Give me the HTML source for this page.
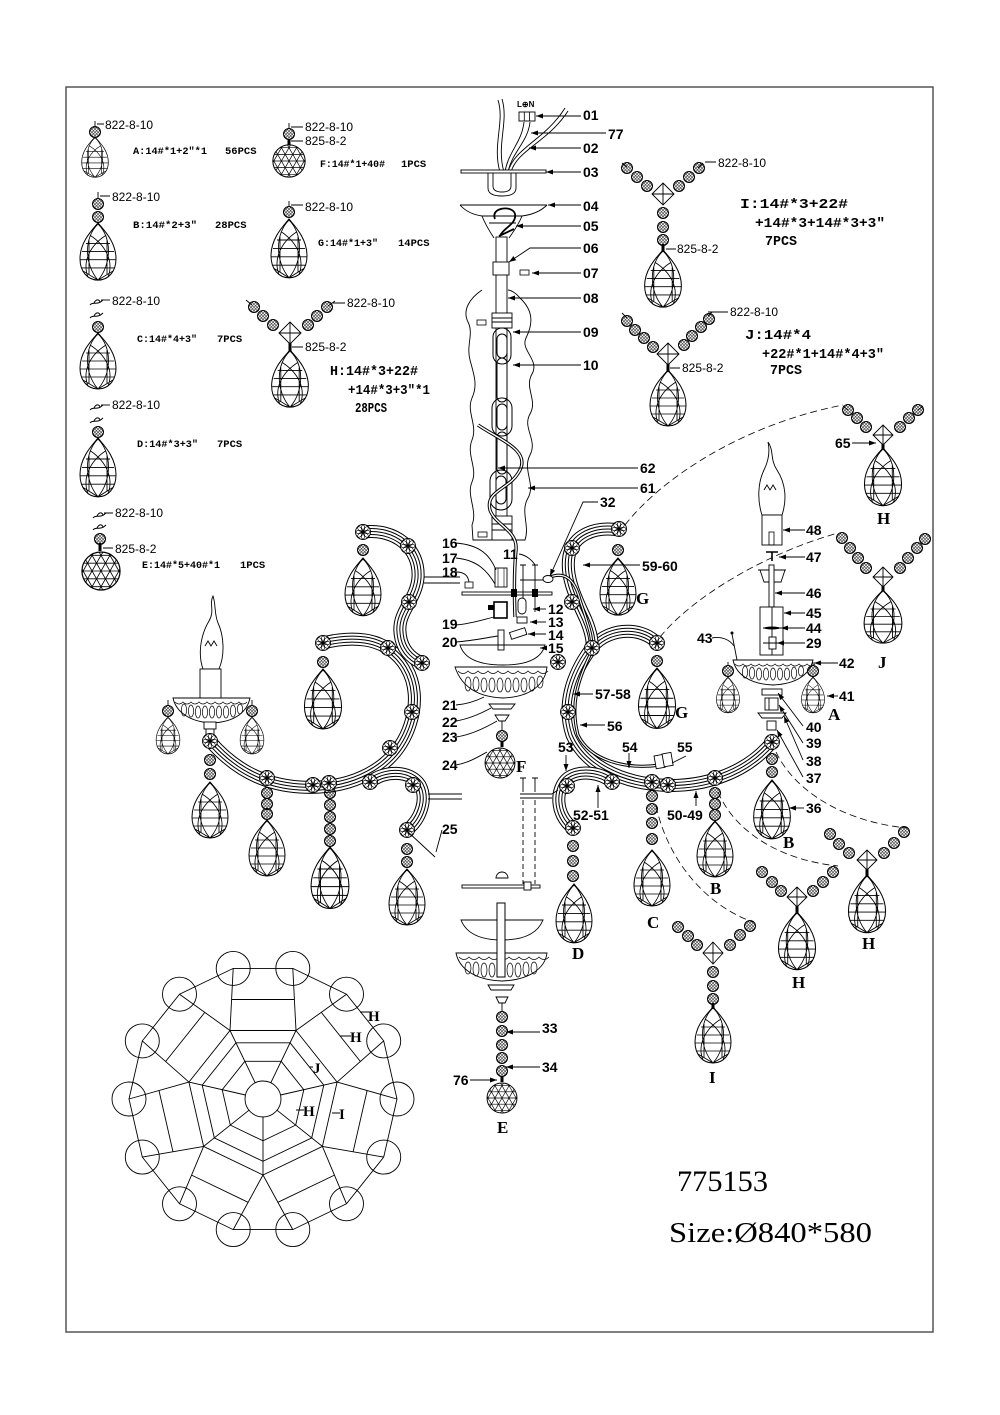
<!DOCTYPE html>
<html><head><meta charset="utf-8"><style>
html,body{margin:0;padding:0;background:#fff}
svg{display:block}
.t{font-family:"Liberation Sans",sans-serif;font-size:14px;font-weight:bold;fill:#000}
.p{font-family:"Liberation Sans",sans-serif;font-size:12px;fill:#000}
.m{font-family:"Liberation Mono",monospace;font-size:10.5px;font-weight:bold;fill:#000}
.m2{font-family:"Liberation Mono",monospace;font-size:14px;font-weight:bold;fill:#000}
.L{font-family:"Liberation Serif",serif;font-size:17px;font-weight:bold;fill:#000}
.big{font-family:"Liberation Serif",serif;font-size:30px;fill:#000}
.ln{fill:none;stroke:#000;stroke-width:0.9}
.ds{fill:none;stroke:#000;stroke-width:0.8;stroke-dasharray:7,4}
</style></head><body>
<svg width="1000" height="1415" viewBox="0 0 1000 1415" xmlns="http://www.w3.org/2000/svg">
<defs>
<pattern id="hat" width="2.2" height="2.2" patternUnits="userSpaceOnUse" patternTransform="rotate(45)"><path d="M0,0H2.2M0,0V2.2" stroke="#000" stroke-width="0.95"/></pattern>
<marker id="ar" markerUnits="userSpaceOnUse" markerWidth="8" markerHeight="6" refX="7" refY="2.5" orient="auto-start-reverse"><path d="M0,0L7,2.5L0,5Z" fill="#000"/></marker>
<g id="bd"><circle r="5.5" fill="url(#hat)" stroke="#000" stroke-width="1"/></g>
<g id="ro"><circle r="7.5" fill="#fff" stroke="#000" stroke-width="0.9"/>
<g fill="none" stroke="#000" stroke-width="0.7">
<ellipse cx="4" cy="0" rx="3" ry="1.7"/><ellipse cx="4" cy="0" rx="3" ry="1.7" transform="rotate(45)"/><ellipse cx="4" cy="0" rx="3" ry="1.7" transform="rotate(90)"/><ellipse cx="4" cy="0" rx="3" ry="1.7" transform="rotate(135)"/><ellipse cx="4" cy="0" rx="3" ry="1.7" transform="rotate(180)"/><ellipse cx="4" cy="0" rx="3" ry="1.7" transform="rotate(225)"/><ellipse cx="4" cy="0" rx="3" ry="1.7" transform="rotate(270)"/><ellipse cx="4" cy="0" rx="3" ry="1.7" transform="rotate(315)"/></g>
<circle r="1.7" fill="#000"/></g>
<clipPath id="bc"><circle r="17"/></clipPath>
<g id="ball"><circle r="17" fill="#fff" stroke="#000" stroke-width="1.1"/>
<g clip-path="url(#bc)" stroke="#000" stroke-width="0.75" fill="none">
<path d="M-20,-14H20M-20,-7H20M-20,0H20M-20,7H20M-20,14H20"/>
<path d="M-36,-21L-12,21M-28,-21L-4,21M-20,-21L4,21M-12,-21L12,21M-4,-21L20,21M4,-21L28,21M12,-21L36,21"/>
<path d="M36,-21L12,21M28,-21L4,21M20,-21L-4,21M12,-21L-12,21M4,-21L-20,21M-4,-21L-28,21M-12,-21L-36,21"/>
</g></g>
<g id="dr" fill="none" stroke="#000" stroke-width="0.85">
<path d="M0,0 C5,6 18,18 18,35 C18,48 10,56 0,56 C-10,56 -18,48 -18,35 C-18,18 -5,6 0,0Z" fill="#fff" stroke-width="1"/>
<path d="M0,1 C-14,14 -14,40 0,56 M0,1 C14,14 14,40 0,56 M-8,12 C8,22 16,38 10,53 M8,12 C-8,22 -16,38 -10,53 M-12,20H12 M-16,28H16 M-18,36H18 M-17,44H17 M-9,17V51 M9,17V51 M-15,47L0,56L15,47"/>
</g>
<g id="bird" fill="none" stroke="#000" stroke-width="1"><path d="M-7,3 C-4,-1 0,4 6,-2 M-3,1 C-1,-3 2,-3 3,0"/></g>
<path id="aL1" d="M210,741 C235,770 265,785 300,787 C350,790 395,770 410,725 C425,680 400,645 365,640 C350,638 335,640 323,643"/>
<path id="aL2" d="M363,532 C395,528 420,548 418,578 C416,600 398,612 400,632 C401,648 410,658 422,663"/>
<path id="aL3" d="M370,782 C385,770 410,770 420,785 C428,800 420,820 407,830"/>
<path id="aR1" d="M619,530 C595,526 573,535 569,556 C565,578 578,602 586,620 C591,632 593,642 592,650"/>
<path id="aR2" d="M657,643 C640,625 605,628 590,650 C572,675 562,705 572,735 C585,765 620,782 660,785 C700,788 745,775 772,742"/>
<path id="aR3" d="M612,782 C600,772 580,770 568,778 C555,788 555,815 573,828"/>
</defs>

<!-- border -->
<rect x="66" y="87" width="867" height="1245" fill="none" stroke="#555" stroke-width="1.5"/>

<!-- ===== ARMS ===== -->
<g fill="none" stroke-linecap="butt">
<use href="#aL1" stroke="#000" stroke-width="13"/><use href="#aL1" stroke="#fff" stroke-width="11"/><use href="#aL1" stroke="#000" stroke-width="7"/><use href="#aL1" stroke="#fff" stroke-width="5"/><use href="#aL1" stroke="#000" stroke-width="1"/>
<use href="#aL2" stroke="#000" stroke-width="13"/><use href="#aL2" stroke="#fff" stroke-width="11"/><use href="#aL2" stroke="#000" stroke-width="7"/><use href="#aL2" stroke="#fff" stroke-width="5"/><use href="#aL2" stroke="#000" stroke-width="1"/>
<use href="#aL3" stroke="#000" stroke-width="13"/><use href="#aL3" stroke="#fff" stroke-width="11"/><use href="#aL3" stroke="#000" stroke-width="7"/><use href="#aL3" stroke="#fff" stroke-width="5"/><use href="#aL3" stroke="#000" stroke-width="1"/>
<use href="#aR2" stroke="#000" stroke-width="13"/><use href="#aR2" stroke="#fff" stroke-width="11"/><use href="#aR2" stroke="#000" stroke-width="7"/><use href="#aR2" stroke="#fff" stroke-width="5"/><use href="#aR2" stroke="#000" stroke-width="1"/>
<use href="#aR1" stroke="#000" stroke-width="13"/><use href="#aR1" stroke="#fff" stroke-width="11"/><use href="#aR1" stroke="#000" stroke-width="7"/><use href="#aR1" stroke="#fff" stroke-width="5"/><use href="#aR1" stroke="#000" stroke-width="1"/>
<use href="#aR3" stroke="#000" stroke-width="13"/><use href="#aR3" stroke="#fff" stroke-width="11"/><use href="#aR3" stroke="#000" stroke-width="7"/><use href="#aR3" stroke="#fff" stroke-width="5"/><use href="#aR3" stroke="#000" stroke-width="1"/>
</g>
<!-- arm wire on right -->
<path d="M548,578 C565,570 575,580 580,600 C588,625 595,640 590,655 C578,680 570,705 578,735 C590,760 625,770 660,765" fill="none" stroke="#000" stroke-width="3.2"/>
<path d="M548,578 C565,570 575,580 580,600 C588,625 595,640 590,655 C578,680 570,705 578,735 C590,760 625,770 660,765" fill="none" stroke="#fff" stroke-width="1.2"/>

<!-- arm tabs -->
<g class="ln">
<path d="M424,577 L460,577 M424,583 L460,583"/><path d="M428,794 L462,794 M428,799 L462,799" />
<path d="M520,794 L552,794 M520,798 L552,798 M552,794 L558,790"/>
</g>

<!-- ===== CENTER COLUMN ===== -->
<g class="ln">
<path d="M498,100 C505,122 492,145 500,172 M502,99 C509,122 496,145 504,172"/>
<path d="M565,108 C545,140 514,148 508,172 M568,111 C548,142 517,150 511,172"/>
<path d="M524,122 C522,142 508,152 505,172 M530,122 C528,142 512,152 508,172"/>
</g>
<text x="517" y="107" style="font-family:'Liberation Sans',sans-serif;font-size:8px;font-weight:bold">L⊕N</text>
<rect x="519" y="112" width="16" height="9" fill="#fff" stroke="#000" stroke-width="0.9"/>
<path d="M524.3,112V121M529.6,112V121" stroke="#000" stroke-width="0.8"/>
<rect x="461" y="170" width="85" height="3" fill="#fff" stroke="#000" stroke-width="0.9"/>
<path d="M488,173 V188 Q488,196 502,196 Q516,196 516,188 V173 M493,173 V186 Q493,192 502,192 Q511,192 511,186 V173" class="ln"/>
<!-- canopy -->
<path d="M460,205 L547,205 M460,205 Q468,214 482,216 C486,226 490,232 494,238 M547,205 Q538,214 522,216 C518,226 513,232 509,238 M482,216 L522,216 M489,223 L516,223" class="ln"/>
<path d="M495,219 C490,207 513,205 515,214 C517,224 503,228 500,236 M499,236 L514,229" fill="none" stroke="#000" stroke-width="1.8"/>
<!-- pipe -->
<rect x="496" y="237" width="11" height="292" fill="#fff" stroke="#000" stroke-width="0.9"/>
<rect x="493" y="262" width="16" height="13" fill="#fff" stroke="#000" stroke-width="0.9"/>
<path d="M509,262 L530,248 L581,248" class="ln" marker-start="url(#ar)"/>
<rect x="520" y="270" width="9" height="5" fill="#fff" stroke="#000" stroke-width="0.8"/>
<!-- wavy cover -->
<path d="M482,290 C470,298 462,310 468,322 C474,334 466,345 470,360 C474,375 478,385 472,398 C466,412 478,425 472,440 C466,455 478,468 472,482 C466,496 478,510 472,525 L473,540 L525,540 C530,525 520,512 528,498 C536,484 522,470 530,455 C538,440 522,428 530,414 C538,400 524,388 532,374 C540,360 520,350 526,338 C532,326 535,312 520,298 C515,292 510,290 508,290" class="ln"/>
<rect x="477" y="320" width="9" height="5" fill="#fff" stroke="#000" stroke-width="0.8"/>
<rect x="478" y="532" width="9" height="5" fill="#fff" stroke="#000" stroke-width="0.8"/>
<!-- coupling & chain -->
<rect x="492" y="313" width="20" height="15" fill="#fff" stroke="#000" stroke-width="0.9"/>
<path d="M492,318H512M492,322H512" class="ln"/>
<g fill="none" stroke="#000" stroke-width="1">
<rect x="493" y="328" width="18" height="36" rx="9"/><rect x="497" y="334" width="10" height="24" rx="5"/>
<rect x="497" y="358" width="10" height="44" rx="5"/>
<rect x="492" y="398" width="20" height="38" rx="10"/><rect x="497" y="404" width="10" height="26" rx="5"/>
<rect x="497" y="432" width="10" height="42" rx="5"/>
<rect x="490" y="470" width="22" height="40" rx="11"/><rect x="496" y="476" width="10" height="28" rx="5"/>
</g>
<rect x="492" y="516" width="20" height="24" fill="#fff" stroke="#000" stroke-width="0.9"/>
<path d="M492,524H512M492,530H512" class="ln"/>
<!-- wire along chain -->
<path d="M478,425 C500,440 530,450 520,470 C510,490 485,490 490,510 C495,525 518,530 516,550 C514,570 514,590 515,617" fill="none" stroke="#000" stroke-width="3.4"/>
<path d="M478,425 C500,440 530,450 520,470 C510,490 485,490 490,510 C495,525 518,530 516,550 C514,570 514,590 515,617" fill="none" stroke="#fff" stroke-width="1.4"/>
<!-- body parts 16-20 -->
<rect x="495" y="568" width="12" height="19" fill="#fff" stroke="#000" stroke-width="0.9"/>
<path d="M498,568V587M504,568V587" stroke="#000" stroke-width="0.6"/>
<rect x="465" y="582" width="8" height="6" fill="#fff" stroke="#000" stroke-width="0.8"/>
<rect x="462" y="592" width="90" height="3" fill="#fff" stroke="#000" stroke-width="0.9"/>
<g class="ln"><path d="M520,565h6M523,565V612M532,565h6M535,565V612M520,580H548"/></g>
<rect x="511" y="589" width="6" height="8" fill="#000"/><rect x="532" y="589" width="6" height="8" fill="#000"/>
<ellipse cx="548" cy="579" rx="5" ry="3.5" fill="#fff" stroke="#000" stroke-width="0.9"/>
<rect x="518" y="598" width="8" height="16" rx="4" fill="#fff" stroke="#000" stroke-width="0.9"/>
<rect x="494" y="602" width="13" height="16" fill="#fff" stroke="#000" stroke-width="1.6"/>
<rect x="488" y="605" width="6" height="5" fill="#000"/>
<rect x="517" y="617" width="10" height="6" fill="#fff" stroke="#000" stroke-width="0.9"/>
<rect x="510" y="630" width="16" height="7" fill="#fff" stroke="#000" stroke-width="0.9" transform="rotate(-18 518 633)"/>
<rect x="498" y="630" width="6" height="20" fill="#fff" stroke="#000" stroke-width="0.9"/>
<path d="M460,645 L545,645 Q540,665 503,665 Q466,665 460,645Z" fill="none" stroke="#000" stroke-width="0.9"/>
<!-- bowl 21 -->
<path d="M455,667 L547,667 C545,685 530,697 503,698 C476,697 461,685 455,667Z" fill="#fff" stroke="#000" stroke-width="0.9"/>
<g fill="none" stroke="#000" stroke-width="0.7">
<path d="M458,671 q5,5 10,0 q5,5 10,0 q5,5 10,0 q5,5 10,0 q5,5 10,0 q5,5 10,0 q5,5 10,0 q5,5 10,0 q5,5 10,0"/>
<ellipse cx="468" cy="684" rx="3" ry="7"/><ellipse cx="476" cy="684" rx="3" ry="7"/><ellipse cx="484" cy="685" rx="3" ry="7"/><ellipse cx="492" cy="685" rx="3" ry="7"/><ellipse cx="500" cy="685" rx="3" ry="7"/><ellipse cx="508" cy="685" rx="3" ry="7"/><ellipse cx="516" cy="685" rx="3" ry="7"/><ellipse cx="524" cy="685" rx="3" ry="7"/><ellipse cx="532" cy="684" rx="3" ry="7"/><ellipse cx="540" cy="682" rx="3" ry="6"/>
</g>
<path d="M489,704 L515,704 L511,709 L493,709Z" fill="#fff" stroke="#000" stroke-width="0.9"/>
<path d="M495,715 L509,715 L505,721 L499,721Z" fill="#fff" stroke="#000" stroke-width="0.9"/>
<path d="M502,721V730" class="ln"/>
<use href="#bd" x="502" y="736"/>
<rect x="500.5" y="741" width="3" height="6" fill="#000"/>
<use href="#ball" transform="translate(500,763) scale(0.88)"/>

<!-- bottom center assembly -->
<g class="ln">
<path d="M520,778h6M523,778V792M532,778h6M535,778V792"/>
<path d="M523,800V884M535,800V884" stroke-dasharray="5,3"/>
</g>
<rect x="462" y="885" width="78" height="3" fill="#fff" stroke="#000" stroke-width="0.9"/>
<rect x="524" y="882" width="7" height="8" fill="#fff" stroke="#000" stroke-width="0.9"/>
<path d="M496,878 A6,6 0 0 1 508,878 Z" fill="#fff" stroke="#000" stroke-width="0.9"/>
<path d="M461,920 L543,920 Q535,940 502,940 Q469,940 461,920Z" fill="#fff" stroke="#000" stroke-width="0.9"/>
<path d="M456,953 L547,953 C545,968 530,980 502,981 C474,980 459,968 456,953Z" fill="#fff" stroke="#000" stroke-width="0.9"/>
<g fill="none" stroke="#000" stroke-width="0.7">
<path d="M459,957 q5,5 10,0 q5,5 10,0 q5,5 10,0 q5,5 10,0 q5,5 10,0 q5,5 10,0 q5,5 10,0 q5,5 10,0 q5,5 10,0"/>
<ellipse cx="468" cy="968" rx="3" ry="6"/><ellipse cx="476" cy="969" rx="3" ry="7"/><ellipse cx="484" cy="970" rx="3" ry="7"/><ellipse cx="492" cy="970" rx="3" ry="7"/><ellipse cx="510" cy="970" rx="3" ry="7"/><ellipse cx="518" cy="970" rx="3" ry="7"/><ellipse cx="526" cy="969" rx="3" ry="7"/><ellipse cx="534" cy="968" rx="3" ry="6"/>
</g>
<rect x="497" y="903" width="8" height="74" fill="#fff" stroke="#000" stroke-width="1"/>
<path d="M488,985 L514,985 L511,990 L491,990Z" fill="#fff" stroke="#000" stroke-width="0.9"/>
<path d="M496,997 L508,997 L505,1003 L499,1003Z" fill="#fff" stroke="#000" stroke-width="0.9"/>
<path d="M502,1003V1012" class="ln"/>
<use href="#bd" x="502" y="1017"/><use href="#bd" x="502" y="1031"/><use href="#bd" x="502" y="1045"/><use href="#bd" x="502" y="1058"/><use href="#bd" x="502" y="1071"/>
<rect x="500.5" y="1076" width="3" height="6" fill="#000"/>
<use href="#ball" transform="translate(502,1098) scale(0.88)"/>

<!-- ===== LEFT CANDLE ===== -->
<path d="M213,596 C209,604 215,611 209,621 C200,636 198,655 203,669 L219,669 C225,655 224,636 218,623 C214,613 216,604 213,596Z" fill="#fff" stroke="#000" stroke-width="0.9"/>
<path d="M205,646 L208,641 L211,646 L214,641 L217,646" class="ln"/>
<rect x="200" y="669" width="21" height="30" fill="#fff" stroke="#000" stroke-width="0.9"/>
<path d="M173,698 L250,698 C247,712 235,722 212,723 C190,722 176,712 173,698Z" fill="#fff" stroke="#000" stroke-width="0.9"/>
<g fill="none" stroke="#000" stroke-width="0.7">
<path d="M175,702 q4,4 8,0 q4,4 8,0 q4,4 8,0 q4,4 8,0 q4,4 8,0 q4,4 8,0 q4,4 8,0 q4,4 8,0 q4,4 8,0"/>
<ellipse cx="184" cy="710" rx="2.6" ry="6"/><ellipse cx="191" cy="711" rx="2.6" ry="6"/><ellipse cx="198" cy="712" rx="2.6" ry="6"/><ellipse cx="205" cy="712" rx="2.6" ry="6"/><ellipse cx="212" cy="712" rx="2.6" ry="6"/><ellipse cx="219" cy="712" rx="2.6" ry="6"/><ellipse cx="226" cy="712" rx="2.6" ry="6"/><ellipse cx="233" cy="711" rx="2.6" ry="6"/><ellipse cx="240" cy="709" rx="2.6" ry="5"/>
</g>
<rect x="204" y="722" width="12" height="7" fill="#fff" stroke="#000" stroke-width="0.9"/>
<rect x="206" y="729" width="8" height="6" fill="#fff" stroke="#000" stroke-width="0.9"/>
<path d="M168,700V706M252,700V706" class="ln"/>
<use href="#bd" x="168" y="711"/><use href="#bd" x="252" y="711"/>
<use href="#dr" transform="translate(168,717) scale(0.66)"/><use href="#dr" transform="translate(252,717) scale(0.66)"/>

<!-- ===== RIGHT CANDLE ===== -->
<path d="M768,442 C774,450 770,460 777,470 C786,484 787,500 782,515 L762,515 C757,500 758,482 764,470 C769,460 770,451 768,442Z" fill="#fff" stroke="#000" stroke-width="0.9"/>
<path d="M764,490 L767,485 L770,490 L773,485 L776,490" class="ln"/>
<rect x="762" y="515" width="20" height="30" fill="#fff" stroke="#000" stroke-width="0.9"/>
<rect x="769" y="532" width="5" height="13" fill="none" stroke="#000" stroke-width="0.8"/>
<path d="M766,552 H778 M772,552 V561" stroke="#000" stroke-width="1.6"/>
<path d="M758,570 H786 M760,570 L764,582 H781 L785,570" class="ln"/>
<rect x="769" y="565" width="5" height="42" fill="#fff" stroke="#000" stroke-width="0.9"/>
<rect x="760" y="607" width="23" height="48" fill="#fff" stroke="#000" stroke-width="0.9"/>
<path d="M772,607V655 M763,628H781" class="ln"/>
<ellipse cx="772" cy="628" rx="8" ry="1.5" fill="#000"/>
<rect x="769" y="637" width="7" height="12" fill="#fff" stroke="#000" stroke-width="0.9"/>
<path d="M763,643H781" class="ln"/>
<path d="M733,660 L813,660 C810,674 797,684 773,685 C749,684 736,674 733,660Z" fill="#fff" stroke="#000" stroke-width="0.9"/>
<g fill="none" stroke="#000" stroke-width="0.7">
<path d="M735,664 q4,4 8,0 q4,4 8,0 q4,4 8,0 q4,4 8,0 q4,4 8,0 q4,4 8,0 q4,4 8,0 q4,4 8,0 q4,4 8,0 q4,4 8,0"/>
<ellipse cx="745" cy="672" rx="2.6" ry="6"/><ellipse cx="752" cy="673" rx="2.6" ry="6"/><ellipse cx="759" cy="674" rx="2.6" ry="6"/><ellipse cx="766" cy="674" rx="2.6" ry="6"/><ellipse cx="773" cy="674" rx="2.6" ry="6"/><ellipse cx="780" cy="674" rx="2.6" ry="6"/><ellipse cx="787" cy="674" rx="2.6" ry="6"/><ellipse cx="794" cy="673" rx="2.6" ry="6"/><ellipse cx="801" cy="671" rx="2.6" ry="5"/>
</g>
<rect x="762" y="689" width="20" height="6" fill="#fff" stroke="#000" stroke-width="0.9"/>
<rect x="765" y="698" width="13" height="12" fill="#fff" stroke="#000" stroke-width="0.9"/>
<path d="M769,698V710" class="ln"/>
<path d="M758,713 H786 L782,718 H762Z" fill="#fff" stroke="#000" stroke-width="0.9"/>
<rect x="767" y="721" width="9" height="9" fill="#fff" stroke="#000" stroke-width="0.9"/>
<path d="M732,634 L737,660" class="ln"/><circle cx="732" cy="633" r="1.5" fill="#000"/>
<path d="M728,662V666M813,662V666" class="ln"/>
<use href="#bd" x="728" y="671"/><use href="#bd" x="813" y="671"/>
<use href="#dr" transform="translate(728,677) scale(0.64)"/><use href="#dr" transform="translate(813,677) scale(0.64)"/>
<!-- 55 bracket -->
<rect x="655" y="755" width="9" height="13" fill="#fff" stroke="#000" stroke-width="0.9" transform="rotate(-10 660 761)"/>
<rect x="663" y="753" width="9" height="13" fill="#fff" stroke="#000" stroke-width="0.9" transform="rotate(-10 668 759)"/>

<!-- ===== DASHED CONNECTORS ===== -->
<path class="ds" d="M625,525 C660,480 740,425 843,405"/>
<path class="ds" d="M660,637 C690,600 760,555 838,533"/>
<path class="ds" d="M776,752 C795,792 845,822 907,828"/>
<path class="ds" d="M718,792 C735,832 780,860 838,866"/>
<path class="ds" d="M656,806 C668,860 705,905 753,922"/>

<!-- ===== HANGING BEADS + DROPS (arms) ===== -->
<use href="#bd" x="210" y="760"/><use href="#bd" x="210" y="774"/><use href="#dr" transform="translate(210,782)"/>
<use href="#bd" x="267" y="793"/><use href="#bd" x="267" y="804"/><use href="#bd" x="267" y="814"/><use href="#dr" transform="translate(267,820)"/>
<use href="#bd" x="330" y="793"/><use href="#bd" x="330" y="805"/><use href="#bd" x="330" y="817"/><use href="#bd" x="330" y="829"/><use href="#bd" x="330" y="841"/><use href="#dr" transform="translate(330,847) scale(1.05,1.1)"/>
<use href="#bd" x="407" y="849"/><use href="#bd" x="407" y="862"/><use href="#dr" transform="translate(407,869)"/>
<use href="#bd" x="323" y="662"/><use href="#dr" transform="translate(323,669) scale(1.03,1.07)"/>
<use href="#bd" x="363" y="550"/><use href="#dr" transform="translate(363,558) scale(1,1.03)"/>
<use href="#bd" x="618" y="550"/><use href="#dr" transform="translate(618,558) scale(1,1.02)"/>
<use href="#bd" x="657" y="661"/><use href="#dr" transform="translate(657,668) scale(1.03,1.08)"/>
<use href="#bd" x="573" y="846"/><use href="#bd" x="573" y="861"/><use href="#bd" x="573" y="876"/><use href="#dr" transform="translate(574,884) scale(1,1.05)"/>
<use href="#bd" x="652" y="796"/><use href="#bd" x="652" y="809"/><use href="#bd" x="652" y="823"/><use href="#bd" x="652" y="839"/><use href="#dr" transform="translate(652,850)"/>
<use href="#bd" x="715" y="793"/><use href="#bd" x="715" y="804"/><use href="#bd" x="715" y="815"/><use href="#dr" transform="translate(715,821)"/>
<use href="#bd" x="772" y="759"/><use href="#bd" x="772" y="772"/><use href="#dr" transform="translate(772,780) scale(1.02,1.05)"/>

<!-- rosettes -->
<g>
<use href="#ro" x="210" y="741"/><use href="#ro" x="267" y="778"/><use href="#ro" x="313" y="785"/><use href="#ro" x="329" y="783"/><use href="#ro" x="390" y="748"/><use href="#ro" x="412" y="712"/><use href="#ro" x="388" y="648"/><use href="#ro" x="323" y="643"/><use href="#ro" x="363" y="532"/><use href="#ro" x="408" y="546"/><use href="#ro" x="409" y="602"/><use href="#ro" x="422" y="663"/><use href="#ro" x="370" y="782"/><use href="#ro" x="413" y="785"/><use href="#ro" x="407" y="830"/>
<use href="#ro" x="619" y="529"/><use href="#ro" x="572" y="548"/><use href="#ro" x="572" y="602"/><use href="#ro" x="592" y="648"/><use href="#ro" x="558" y="662"/><use href="#ro" x="657" y="643"/><use href="#ro" x="568" y="712"/><use href="#ro" x="652" y="782"/><use href="#ro" x="668" y="785"/><use href="#ro" x="715" y="778"/><use href="#ro" x="772" y="742"/><use href="#ro" x="567" y="786"/><use href="#ro" x="612" y="782"/><use href="#ro" x="573" y="828"/>
</g>

<!-- ===== V PENDANTS (right side) ===== -->
<g>
<path d="M843,406 L848,410 M923,406 L918,410" class="ln"/>
<use href="#bd" x="848" y="410"/><use href="#bd" x="857" y="418"/><use href="#bd" x="866" y="427"/><use href="#bd" x="918" y="410"/><use href="#bd" x="909" y="418"/><use href="#bd" x="900" y="427"/>
<path d="M883,425 L893,435 L883,445 L873,435Z M873,435H893 M883,425V445" class="ln"/>
<rect x="881.5" y="444" width="3" height="6" fill="#000"/>
<use href="#dr" transform="translate(883,448) scale(1.03)"/>
<use href="#bd" x="842" y="538"/><use href="#bd" x="850" y="548"/><use href="#bd" x="858" y="558"/><use href="#bd" x="866" y="568"/><use href="#bd" x="925" y="539"/><use href="#bd" x="917" y="548"/><use href="#bd" x="908" y="558"/><use href="#bd" x="900" y="568"/>
<path d="M883,567 L893,577 L883,587 L873,577Z M873,577H893 M883,567V587" class="ln"/>
<rect x="881.5" y="586" width="3" height="6" fill="#000"/>
<use href="#dr" transform="translate(883,590) scale(1.05,0.95)"/>
<use href="#bd" x="830" y="834"/><use href="#bd" x="839" y="844"/><use href="#bd" x="849" y="853"/><use href="#bd" x="904" y="832"/><use href="#bd" x="894" y="843"/><use href="#bd" x="884" y="853"/>
<path d="M867,850 L877,860 L867,870 L857,860Z M857,860H877 M867,850V870" class="ln"/>
<rect x="865.5" y="869" width="3" height="7" fill="#000"/>
<use href="#dr" transform="translate(867,875) scale(1.03)"/>
<use href="#bd" x="762" y="872"/><use href="#bd" x="772" y="882"/><use href="#bd" x="781" y="891"/><use href="#bd" x="833" y="872"/><use href="#bd" x="823" y="882"/><use href="#bd" x="813" y="891"/>
<path d="M797,887 L807,897 L797,907 L787,897Z M787,897H807 M797,887V907" class="ln"/>
<rect x="795.5" y="906" width="3" height="7" fill="#000"/>
<use href="#dr" transform="translate(797,912) scale(1.03)"/>
<use href="#bd" x="678" y="927"/><use href="#bd" x="688" y="936"/><use href="#bd" x="697" y="945"/><use href="#bd" x="750" y="926"/><use href="#bd" x="740" y="935"/><use href="#bd" x="730" y="945"/>
<path d="M713,942 L723,953 L713,964 L703,953Z M703,953H723 M713,942V964" class="ln"/>
<use href="#bd" x="713" y="972"/><use href="#bd" x="713" y="986"/><use href="#bd" x="713" y="999"/>
<rect x="711.5" y="1003" width="3" height="6" fill="#000"/>
<use href="#dr" transform="translate(713,1007)"/>
</g>

<!-- ===== LEGEND GRAPHICS ===== -->
<g>
<path d="M95,121V128 M97,124H104" class="ln"/><use href="#bd" x="95" y="132"/><use href="#dr" transform="translate(95,137) scale(0.74,0.72)"/>
<path d="M289,123V129 M291,127H303 M291,141H303" class="ln"/><use href="#bd" x="289" y="134"/><rect x="287.5" y="139" width="3" height="7" fill="#000"/><use href="#ball" transform="translate(289,161) scale(0.95)"/>
<path d="M98,192V198 M100,196H110" class="ln"/><use href="#bd" x="98" y="204"/><use href="#bd" x="98" y="217"/><use href="#dr" transform="translate(98,223) scale(1,1.02)"/>
<path d="M289,201V207 M291,205H303" class="ln"/><use href="#bd" x="289" y="212"/><use href="#dr" transform="translate(289,219) scale(1,1.05)"/>
<use href="#bird" x="97" y="302"/><use href="#bird" x="97" y="315"/><path d="M101,300H110" class="ln"/><use href="#bd" x="98" y="327"/><use href="#dr" transform="translate(98,333)"/>
<use href="#bird" x="97" y="407"/><use href="#bird" x="97" y="420"/><path d="M101,405H110" class="ln"/><use href="#bd" x="98" y="432"/><use href="#dr" transform="translate(98,438) scale(1,1.05)"/>
<use href="#bird" x="100" y="515"/><use href="#bird" x="100" y="527"/><path d="M104,513H113 M103,548H113" class="ln"/><use href="#bd" x="100" y="539"/><rect x="98.5" y="543" width="3" height="8" fill="#000"/><use href="#ball" transform="translate(101,571) scale(1.12)"/>
<path d="M246,300 L252,305 M335,301 L328,306 M333,303H345 M292,347H303" class="ln"/>
<use href="#bd" x="254" y="307"/><use href="#bd" x="263" y="316"/><use href="#bd" x="273" y="325"/><use href="#bd" x="327" y="307"/><use href="#bd" x="317" y="316"/><use href="#bd" x="308" y="325"/>
<path d="M290,322 L301,333 L290,344 L279,333Z M279,333H301 M290,322V344" class="ln"/>
<rect x="288.5" y="343" width="3" height="8" fill="#000"/>
<use href="#dr" transform="translate(290,350) scale(1.02)"/>
<path d="M622,163 L627,167 M703,163 L698,168 M705,162H716 M666,249H676" class="ln"/>
<use href="#bd" x="627" y="168"/><use href="#bd" x="637" y="177"/><use href="#bd" x="647" y="186"/><use href="#bd" x="699" y="168"/><use href="#bd" x="689" y="177"/><use href="#bd" x="679" y="186"/>
<path d="M663,183 L674,194 L663,205 L652,194Z M652,194H674 M663,183V205" class="ln"/>
<use href="#bd" x="663" y="213"/><use href="#bd" x="663" y="227"/><use href="#bd" x="663" y="240"/>
<rect x="661.5" y="244" width="3" height="8" fill="#000"/>
<use href="#dr" transform="translate(663,250) scale(1.02)"/>
<path d="M622,313 L627,318 M712,312 L708,316 M708,312H728 M670,368H680" class="ln"/>
<use href="#bd" x="627" y="321"/><use href="#bd" x="635" y="330"/><use href="#bd" x="644" y="338"/><use href="#bd" x="653" y="347"/><use href="#bd" x="709" y="319"/><use href="#bd" x="701" y="327"/><use href="#bd" x="692" y="336"/><use href="#bd" x="684" y="345"/>
<path d="M668,343 L679,354 L668,365 L657,354Z M657,354H679 M668,343V365" class="ln"/>
<rect x="666.5" y="364" width="3" height="7" fill="#000"/>
<use href="#dr" transform="translate(668,370)"/>
</g>

<!-- ===== LEADER LINES ===== -->
<g class="ln" marker-start="url(#ar)">
<path d="M536,116H581"/><path d="M531,133H606"/><path d="M529,148H581"/><path d="M546,172H581"/><path d="M548,205H581"/><path d="M516,226H581"/><path d="M532,273H581"/><path d="M508,298H581"/><path d="M513,332H581"/><path d="M513,365H581"/>
<path d="M498,468H638"/><path d="M528,488H638"/>
<path d="M550,576 L583,502 H598"/>
<path d="M583,565H640"/><path d="M573,694H593"/><path d="M580,725H605"/>
<path d="M783,530H805"/><path d="M779,557H805"/><path d="M775,593H805"/><path d="M784,613H805"/><path d="M781,628H805"/><path d="M777,643H805"/><path d="M814,663H838"/><path d="M827,696H838"/>
<path d="M778,693 L803,726"/><path d="M779,705 L803,743"/><path d="M784,716 L803,760"/><path d="M777,730 L803,777"/><path d="M789,808H804"/>
<path d="M876,443H852"/>
<path d="M506,1032H540"/><path d="M506,1067H540"/><path d="M497,1080H470"/>
<path d="M533,609H546"/><path d="M530,622H546"/><path d="M528,634H546"/><path d="M540,648H546"/>
<path d="M566,771V755"/><path d="M629,768V753"/><path d="M598,785V808"/><path d="M696,791V806"/>
</g>
<g class="ln">
<path d="M456,543 C480,545 490,555 496,570"/><path d="M456,558 C478,560 488,572 495,584"/><path d="M456,572 C465,572 468,576 469,582"/>
<path d="M456,625 C470,624 482,620 494,617"/><path d="M456,642 C470,641 485,638 498,636"/>
<path d="M456,705 C468,704 476,701 484,697"/><path d="M456,721 C468,719 480,714 491,708"/><path d="M456,737 C470,735 485,728 497,721"/><path d="M456,765 C468,763 478,757 487,752"/>
<path d="M519,554 C526,555 532,560 535,565"/>
<path d="M712,638 C722,636 730,640 734,646"/>
<path d="M672,763 L686,756"/>
<path d="M407,831 L435,857 M442,830 L436,852"/>
<path d="M360,1012H370 M340,1036H351 M309,1067H313 M296,1110H304 M332,1113H340"/>
</g>

<!-- ===== PLAN VIEW ===== -->
<g fill="none" stroke="#000" stroke-width="0.9">
<circle cx="263" cy="1099" r="18"/>
<circle cx="292.8" cy="968.4" r="17"/><circle cx="346.5" cy="994.2" r="17"/><circle cx="383.7" cy="1040.9" r="17"/><circle cx="397" cy="1099" r="17"/><circle cx="383.7" cy="1157.1" r="17"/><circle cx="346.5" cy="1203.8" r="17"/><circle cx="292.8" cy="1229.6" r="17"/><circle cx="233.2" cy="1229.6" r="17"/><circle cx="179.5" cy="1203.8" r="17"/><circle cx="142.3" cy="1157.1" r="17"/><circle cx="129" cy="1099" r="17"/><circle cx="142.3" cy="1040.9" r="17"/><circle cx="179.5" cy="994.2" r="17"/><circle cx="233.2" cy="968.4" r="17"/>
<path d="M292.8,968.4 L346.5,994.2 L383.7,1040.9 L397,1099 L383.7,1157.1 L346.5,1203.8 L292.8,1229.6 L233.2,1229.6 L179.5,1203.8 L142.3,1157.1 L129,1099 L142.3,1040.9 L179.5,994.2 L233.2,968.4 Z"/>
<path d="M296,1030.5 L337.1,1082.1 L322.4,1146.4 L263,1175 L203.6,1146.4 L188.9,1082.1 L230,1030.5 Z"/>
<path d="M290.1,1042.8 L323.8,1085.1 L311.7,1137.9 L263,1161.3 L214.3,1137.9 L202.2,1085.1 L235.9,1042.8 Z"/>
<path d="M281.2,1061.3 L303.8,1089.7 L295.7,1125.1 L263,1140.8 L230.3,1125.1 L222.2,1089.7 L244.8,1061.3 Z"/>
<path d="M296,1030.5 L270.8,1082.8 M337.1,1082.1 L280.5,1095 M322.4,1146.4 L277,1110.2 M263,1175 L263,1117 M203.6,1146.4 L249,1110.2 M188.9,1082.1 L245.5,1095 M230,1030.5 L255.2,1082.8"/>
<path d="M296,1030.5 L292.8,968.4 M296,1030.5 L346.5,994.2 M337.1,1082.1 L383.7,1040.9 M337.1,1082.1 L397,1099 M322.4,1146.4 L383.7,1157.1 M322.4,1146.4 L346.5,1203.8 M263,1175 L292.8,1229.6 M263,1175 L233.2,1229.6 M203.6,1146.4 L179.5,1203.8 M203.6,1146.4 L142.3,1157.1 M188.9,1082.1 L129,1099 M188.9,1082.1 L142.3,1040.9 M230,1030.5 L179.5,994.2 M230,1030.5 L233.2,968.4"/>
<path d="M321.3,1012.4 L360.4,1061.5 M367.1,1090.6 L353.1,1151.8 M334.5,1175.1 L277.9,1202.3 M248.1,1202.3 L191.6,1175.1 M173,1151.8 L159,1090.6 M165.6,1061.5 L204.8,1012.4 M231.6,999.5 L294.4,999.5"/>
</g>

<!-- ===== TEXT ===== -->
<g class="t">
<text x="583" y="120">01</text><text x="608" y="139">77</text><text x="583" y="153">02</text><text x="583" y="177">03</text><text x="583" y="211">04</text><text x="583" y="231">05</text><text x="583" y="253">06</text><text x="583" y="278">07</text><text x="583" y="303">08</text><text x="583" y="337">09</text><text x="583" y="370">10</text>
<text x="640" y="473">62</text><text x="640" y="493">61</text><text x="600" y="507">32</text>
<text x="642" y="571">59-60</text><text x="595" y="699">57-58</text><text x="607" y="731">56</text><text x="622" y="752">54</text><text x="677" y="752">55</text><text x="558" y="752">53</text><text x="573" y="820">52-51</text><text x="667" y="820">50-49</text>
<text x="442" y="548">16</text><text x="442" y="563">17</text><text x="442" y="577">18</text><text x="442" y="629">19</text><text x="442" y="647">20</text><text x="442" y="710">21</text><text x="442" y="727">22</text><text x="442" y="742">23</text><text x="442" y="770">24</text><text x="442" y="834">25</text>
<text x="503" y="559">11</text><text x="548" y="614">12</text><text x="548" y="627">13</text><text x="548" y="640">14</text><text x="548" y="653">15</text>
<text x="806" y="535">48</text><text x="806" y="562">47</text><text x="806" y="598">46</text><text x="806" y="618">45</text><text x="806" y="633">44</text><text x="806" y="648">29</text><text x="839" y="668">42</text><text x="697" y="643">43</text><text x="839" y="701">41</text><text x="806" y="732">40</text><text x="806" y="748">39</text><text x="806" y="766">38</text><text x="806" y="783">37</text><text x="806" y="813">36</text><text x="835" y="448">65</text>
<text x="542" y="1033">33</text><text x="542" y="1072">34</text><text x="453" y="1085">76</text>
</g>
<g class="L">
<text x="516" y="772">F</text><text x="636" y="604">G</text><text x="675" y="718">G</text><text x="828" y="720">A</text><text x="783" y="848">B</text><text x="710" y="894">B</text><text x="647" y="928">C</text><text x="572" y="959">D</text><text x="497" y="1133">E</text>
<text x="877" y="524">H</text><text x="878" y="668">J</text><text x="862" y="949">H</text><text x="792" y="988">H</text><text x="709" y="1083">I</text>
</g>
<g style="font-family:'Liberation Serif',serif;font-size:15px;font-weight:bold">
<text x="368" y="1021">H</text><text x="350" y="1042">H</text><text x="313" y="1073">J</text><text x="303" y="1116">H</text><text x="339" y="1119">I</text>
</g>
<g class="p">
<text x="105" y="129">822-8-10</text>
<text x="305" y="131">822-8-10</text><text x="305" y="145">825-8-2</text>
<text x="112" y="201">822-8-10</text>
<text x="305" y="211">822-8-10</text>
<text x="112" y="305">822-8-10</text>
<text x="347" y="307">822-8-10</text><text x="305" y="351">825-8-2</text>
<text x="112" y="409">822-8-10</text>
<text x="115" y="517">822-8-10</text><text x="115" y="553">825-8-2</text>
<text x="718" y="167">822-8-10</text><text x="677" y="253">825-8-2</text>
<text x="730" y="316">822-8-10</text><text x="682" y="372">825-8-2</text>
</g>
<g class="m">
<text x="133" y="154" textLength="74" lengthAdjust="spacingAndGlyphs">A:14#*1+2"*1</text><text x="225" y="154">56PCS</text>
<text x="320" y="167" textLength="65" lengthAdjust="spacingAndGlyphs">F:14#*1+40#</text><text x="401" y="167">1PCS</text>
<text x="133" y="228" textLength="64" lengthAdjust="spacingAndGlyphs">B:14#*2+3"</text><text x="215" y="228">28PCS</text>
<text x="318" y="246" textLength="60" lengthAdjust="spacingAndGlyphs">G:14#*1+3"</text><text x="398" y="246">14PCS</text>
<text x="137" y="342" textLength="60" lengthAdjust="spacingAndGlyphs">C:14#*4+3"</text><text x="217" y="342">7PCS</text>
<text x="137" y="447" textLength="61" lengthAdjust="spacingAndGlyphs">D:14#*3+3"</text><text x="217" y="447">7PCS</text>
<text x="142" y="568" textLength="78" lengthAdjust="spacingAndGlyphs">E:14#*5+40#*1</text><text x="240" y="568">1PCS</text>
</g>
<g class="m2">
<text x="330" y="375" textLength="88" lengthAdjust="spacingAndGlyphs">H:14#*3+22#</text>
<text x="348" y="394" textLength="82" lengthAdjust="spacingAndGlyphs">+14#*3+3"*1</text>
<text x="355" y="412" textLength="32" lengthAdjust="spacingAndGlyphs">28PCS</text>
<text x="740" y="208" textLength="108" lengthAdjust="spacingAndGlyphs">I:14#*3+22#</text>
<text x="755" y="227" textLength="130" lengthAdjust="spacingAndGlyphs">+14#*3+14#*3+3"</text>
<text x="765" y="245" textLength="32" lengthAdjust="spacingAndGlyphs">7PCS</text>
<text x="745" y="339" textLength="66" lengthAdjust="spacingAndGlyphs">J:14#*4</text>
<text x="762" y="358" textLength="122" lengthAdjust="spacingAndGlyphs">+22#*1+14#*4+3"</text>
<text x="770" y="374" textLength="32" lengthAdjust="spacingAndGlyphs">7PCS</text>
</g>
<text class="big" x="677" y="1191" textLength="91" lengthAdjust="spacingAndGlyphs">775153</text>
<text class="big" x="669" y="1242" textLength="203" lengthAdjust="spacingAndGlyphs" style="font-size:29px">Size:Ø840*580</text>
</svg>
</body></html>
